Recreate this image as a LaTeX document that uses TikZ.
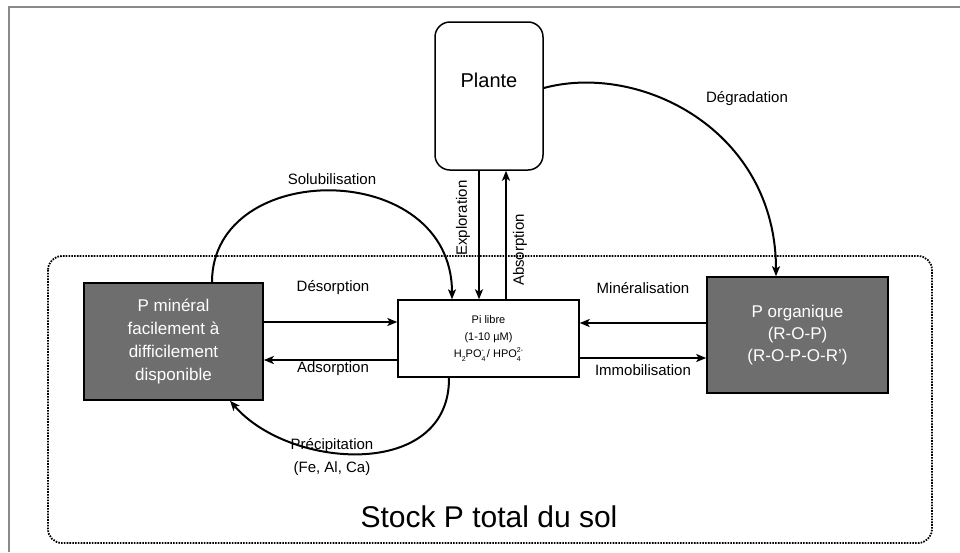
\documentclass[tikz,border=0pt]{standalone}
\usepackage{fontspec}
\setmainfont{Liberation Sans}
\usetikzlibrary{arrows.meta,calc}
\definecolor{boxgray}{HTML}{6E6E6E}
\definecolor{framegray}{HTML}{8A8A8A}
\newcommand{\mysubsup}[2]{\makebox[0pt][l]{\raisebox{-0.32em}{\fontsize{7}{7}\selectfont #1}}\raisebox{0.5em}{\fontsize{7}{7}\selectfont #2}}
\newcommand{\mysub}[1]{\raisebox{-0.32em}{\fontsize{7}{7}\selectfont #1}}
\begin{document}
\begin{tikzpicture}[x=1pt,y=-1pt,
  arr/.style={line width=2pt,-{Stealth[length=10pt,width=8pt,inset=2.5pt]}},
  lbl/.style={font=\fontsize{15}{17}\selectfont,inner sep=0pt},
  graybox/.style={draw=black,line width=1.6pt,fill=boxgray,text=white,align=center,
    font=\fontsize{17}{23}\selectfont,inner sep=0pt},
  whitebox/.style={draw=black,line width=1.4pt,fill=white,align=center,inner sep=0pt},
  soil/.style={line width=1.8pt,dash pattern=on 1.6pt off 1.2pt,rounded corners=14pt}]
\useasboundingbox (0,0) rectangle (960,552);
% screenshot frame
\draw[framegray,line width=1.5pt] (9,552) -- (9,7) -- (960,7);
% soil stock
\draw[soil] (48,256) rectangle (932,543);
\node[inner sep=0pt,font=\fontsize{30}{32}\selectfont] (stock) at (489,517) {Stock P total du sol};
% boxes
\node[whitebox,rounded corners=15pt,line width=1.5pt,minimum width=108pt,minimum height=148pt] (plante) at (489,96) {};
\node[inner sep=0pt,font=\fontsize{20}{22}\selectfont] (plantetxt) at (489,80) {Plante};
\node[whitebox,minimum width=181pt,minimum height=77pt,font=\fontsize{11}{17}\selectfont] (pi) at (488.5,338.5)
  {Pi libre\\(1-10 µM)\\H\mysub{2}PO\mysubsup{4}{-} / HPO\mysubsup{4}{2-}};
\node[graybox,minimum width=179pt,minimum height=117pt] (pmin) at (173.5,341.5)
  {P minéral\\facilement à\\difficilement\\disponible};
\node[graybox,minimum width=181pt,minimum height=116pt,font=\fontsize{17}{22}\selectfont] (porg) at (797.5,335)
  {P organique\\(R-O-P)\\(R-O-P-O-R')};
% helper coordinates
\coordinate (xexp) at (479,0);
\coordinate (xabs) at (506,0);
\coordinate (xsol) at (452,0);
\coordinate (xsols) at (212,0);
\coordinate (xpre) at (449,0);
\coordinate (xpree) at (230,0);
\coordinate (xdeg) at (776,0);
\coordinate (yhi) at (0,322);
\coordinate (ylo) at (0,360);
\coordinate (yhir) at (0,323);
\coordinate (ylor) at (0,358);
\coordinate (ydeg) at (0,88);
% vertical exchanges with plant
\draw[arr] (plante.south -| xexp) -- (pi.north -| xexp);
\draw[arr] (pi.north -| xabs) -- (plante.south -| xabs);
\node[lbl,rotate=90] (lexp) at (463,218) {Exploration};
\node[lbl,rotate=90] (labs) at (520,250) {Absorption};
% horizontal exchanges
\draw[arr] (pmin.east |- yhi) -- (pi.west |- yhi);
\draw[arr] (pi.west |- ylo) -- (pmin.east |- ylo);
\draw[arr] (porg.west |- yhir) -- (pi.east |- yhir);
\draw[arr] (pi.east |- ylor) -- (porg.west |- ylor);
\node[lbl] (ldes) at (333,288) {Désorption};
\node[lbl] (lads) at (333,369) {Adsorption};
\node[lbl] (lmin) at (643,288) {Minéralisation};
\node[lbl] (limm) at (643,370) {Immobilisation};
% solubilisation
\draw[arr] (pmin.north -| xsols) .. controls (212,158) and (452,158) .. (pi.north -| xsol);
\node[lbl] (lsol) at (332,179) {Solubilisation};
% precipitation
\draw[arr] (pi.south -| xpre) .. controls (450,480) and (290,470) .. (pmin.south -| xpree);
\node[lbl,align=center,font=\fontsize{15}{23}\selectfont] (lpre) at (332,457) {Précipitation\\(Fe, Al, Ca)};
% degradation
\draw[arr] (plante.east |- ydeg) .. controls (640,62) and (776,130) .. (porg.north -| xdeg);
\node[lbl] (ldeg) at (747,99) {Dégradation};
\end{tikzpicture}
\end{document}
